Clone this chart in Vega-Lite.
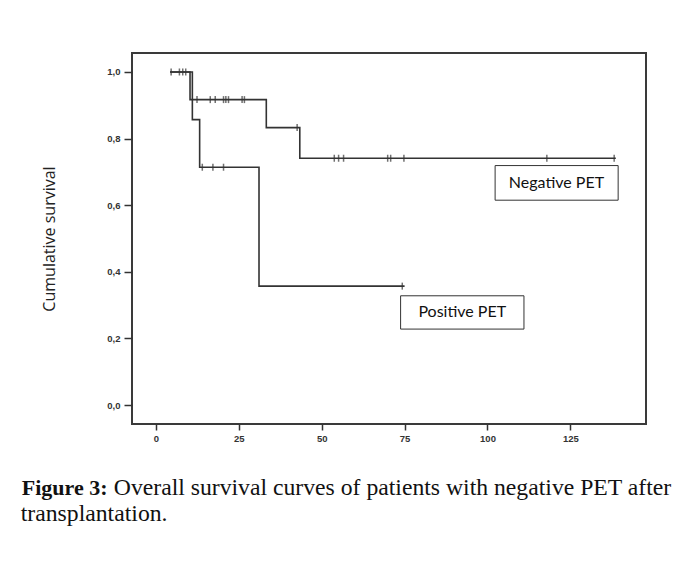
{
  "$schema": "https://vega.github.io/schema/vega-lite/v6.json",
  "padding": {"left": 20, "top": 52, "right": 5, "bottom": 20},
  "background": "white",
  "config": {
    "view": {"stroke": "#3a3a3a", "strokeWidth": 2},
    "axis": {"labelFont": "Liberation Sans", "labelFontSize": 9.5, "labelFontWeight": "bold", "labelColor": "#333", "tickColor": "#333", "tickWidth": 1.5, "domain": false, "grid": false},
    "axisY": {"tickSize": 8, "labelPadding": 4, "titleFont": "Open Sans", "titleFontSize": 16, "titleFontWeight": "normal", "titleColor": "#222", "titlePadding": 49},
    "axisX": {"tickSize": 6, "labelPadding": 3}
  },
  "datasets": {
    "curves": [
      {"group": "Negative PET", "t": 4.3, "s": 1.0},
      {"group": "Negative PET", "t": 10.3, "s": 0.917},
      {"group": "Negative PET", "t": 33.3, "s": 0.833},
      {"group": "Negative PET", "t": 43.4, "s": 0.741},
      {"group": "Negative PET", "t": 138.7, "s": 0.741},
      {"group": "Positive PET", "t": 4.3, "s": 1.0},
      {"group": "Positive PET", "t": 11.0, "s": 0.857},
      {"group": "Positive PET", "t": 13.2, "s": 0.714},
      {"group": "Positive PET", "t": 31.1, "s": 0.357},
      {"group": "Positive PET", "t": 75.0, "s": 0.357}
    ],
    "censors": [
      {"group": "Negative PET", "t": 4.6, "s": 1.0},
      {"group": "Negative PET", "t": 7.1, "s": 1.0},
      {"group": "Negative PET", "t": 8.1, "s": 1.0},
      {"group": "Negative PET", "t": 9.0, "s": 1.0},
      {"group": "Negative PET", "t": 12.4, "s": 0.917},
      {"group": "Negative PET", "t": 16.4, "s": 0.917},
      {"group": "Negative PET", "t": 17.9, "s": 0.917},
      {"group": "Negative PET", "t": 20.4, "s": 0.917},
      {"group": "Negative PET", "t": 21.1, "s": 0.917},
      {"group": "Negative PET", "t": 21.9, "s": 0.917},
      {"group": "Negative PET", "t": 26.0, "s": 0.917},
      {"group": "Negative PET", "t": 26.7, "s": 0.917},
      {"group": "Negative PET", "t": 42.6, "s": 0.833},
      {"group": "Negative PET", "t": 53.8, "s": 0.741},
      {"group": "Negative PET", "t": 55.1, "s": 0.741},
      {"group": "Negative PET", "t": 56.6, "s": 0.741},
      {"group": "Negative PET", "t": 69.9, "s": 0.741},
      {"group": "Negative PET", "t": 70.8, "s": 0.741},
      {"group": "Negative PET", "t": 74.8, "s": 0.741},
      {"group": "Negative PET", "t": 117.9, "s": 0.741},
      {"group": "Negative PET", "t": 138.2, "s": 0.741},
      {"group": "Positive PET", "t": 14.0, "s": 0.714},
      {"group": "Positive PET", "t": 17.2, "s": 0.714},
      {"group": "Positive PET", "t": 20.4, "s": 0.714},
      {"group": "Positive PET", "t": 74.3, "s": 0.357}
    ],
    "labels": [
      {"label": "Negative PET", "x1": 102.3, "x2": 139.4, "y1": 0.615, "y2": 0.719, "tx": 120.8, "ty": 0.667},
      {"label": "Positive PET", "x1": 73.8, "x2": 111.0, "y1": 0.228, "y2": 0.328, "tx": 92.4, "ty": 0.278}
    ]
  },
  "title": {"text": "transplantation.", "orient": "bottom", "anchor": "start", "font": "Liberation Serif", "fontSize": 23.7, "fontWeight": "normal", "color": "#111", "offset": 2},
  "vconcat": [
    {
      "title": {"text": "Overall survival curves of patients with negative PET after", "orient": "bottom", "anchor": "start", "font": "Liberation Serif", "fontSize": 23.7, "fontWeight": "normal", "color": "#111", "offset": 0, "dx": 93, "dy": -23.7},
      "vconcat": [
        {
          "title": {"text": "Figure 3:", "orient": "bottom", "anchor": "start", "font": "Liberation Serif", "fontSize": 22, "fontWeight": "bold", "color": "#111", "offset": 35, "dx": -20},
          "width": 514,
          "height": 371,
          "layer": [
            {
              "data": {"name": "curves"},
              "mark": {"type": "line", "interpolate": "step-after", "color": "#333", "strokeWidth": 1.6},
              "encoding": {
                "x": {"field": "t", "type": "quantitative", "title": null, "scale": {"domain": [-7.2, 147.8], "nice": false, "zero": false}, "axis": {"values": [0, 25, 50, 75, 100, 125]}},
                "y": {"field": "s", "type": "quantitative", "title": "Cumulative survival", "scale": {"domain": [-0.057, 1.057], "nice": false, "zero": false}, "axis": {"values": [0, 0.2, 0.4, 0.6, 0.8, 1.0], "labelExpr": "replace(format(datum.value, '.1f'), '.', ',')"}},
                "detail": {"field": "group"}
              }
            },
            {
              "data": {"name": "censors"},
              "mark": {"type": "tick", "orient": "vertical", "size": 7, "thickness": 1.5, "color": "#333"},
              "encoding": {
                "x": {"field": "t", "type": "quantitative", "title": null, "scale": {"domain": [-7.2, 147.8], "nice": false, "zero": false}},
                "y": {"field": "s", "type": "quantitative", "title": "Cumulative survival", "scale": {"domain": [-0.057, 1.057], "nice": false, "zero": false}}
              }
            },
            {
              "data": {"name": "labels"},
              "mark": {"type": "rect", "fill": "white", "stroke": "#333", "strokeWidth": 1},
              "encoding": {
                "x": {"field": "x1", "type": "quantitative", "title": null, "scale": {"domain": [-7.2, 147.8], "nice": false, "zero": false}},
                "x2": {"field": "x2"},
                "y": {"field": "y1", "type": "quantitative", "title": "Cumulative survival", "scale": {"domain": [-0.057, 1.057], "nice": false, "zero": false}},
                "y2": {"field": "y2"}
              }
            },
            {
              "data": {"name": "labels"},
              "mark": {"type": "text", "font": "Lato", "fontSize": 16, "color": "#111", "align": "center", "baseline": "middle"},
              "encoding": {
                "x": {"field": "tx", "type": "quantitative", "title": null, "scale": {"domain": [-7.2, 147.8], "nice": false, "zero": false}},
                "y": {"field": "ty", "type": "quantitative", "title": "Cumulative survival", "scale": {"domain": [-0.057, 1.057], "nice": false, "zero": false}},
                "text": {"field": "label"}
              }
            }
          ]
        }
      ]
    }
  ]
}
